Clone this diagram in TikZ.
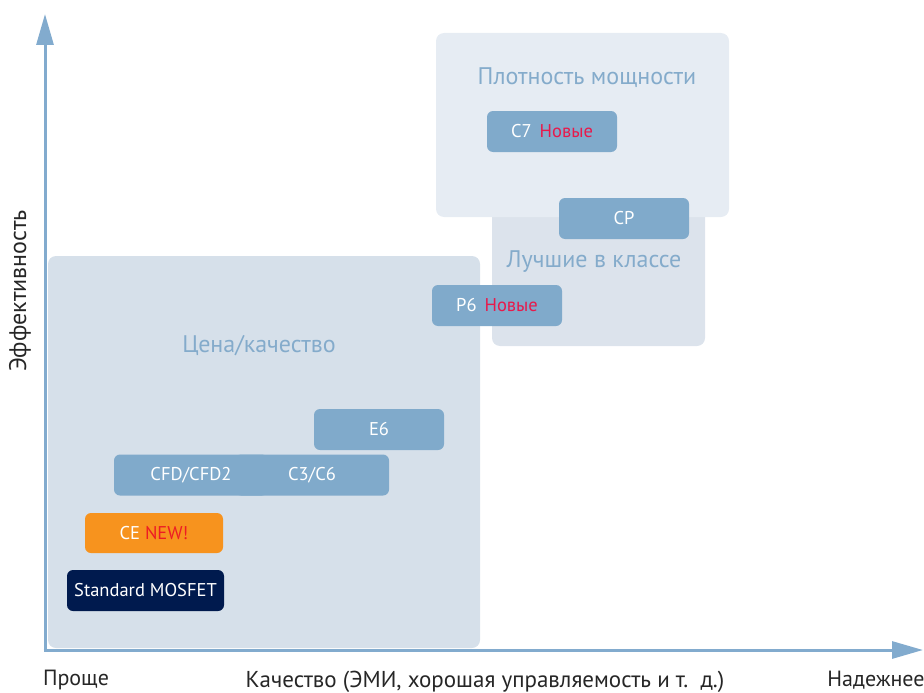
\documentclass[tikz,border=0pt]{standalone}
\usepackage{fontspec}
\setmainfont{PT Sans}
\usetikzlibrary{arrows.meta}
\definecolor{chipblue}{HTML}{80AACB}
\definecolor{axisblue}{HTML}{82ABCE}
\definecolor{labelblue}{HTML}{84ABCB}
\definecolor{valuezone}{HTML}{D6E0EA}
\definecolor{powerzone}{HTML}{E6ECF3}
\definecolor{bestzone}{HTML}{DCE3EC}
\definecolor{newred}{HTML}{E8194B}
\definecolor{cered}{HTML}{ED1C24}
\definecolor{ceorange}{HTML}{F7931E}
\definecolor{mosnavy}{HTML}{001A4E}

\tikzset{
  chip/.style={rounded corners=6pt,fill=chipblue,text=white,minimum width=130pt,minimum height=41pt,inner sep=0pt,font=\fontsize{18.5}{22}\selectfont},
  zonelabel/.style={text=labelblue,font=\fontsize{24}{28}\selectfont},
  axislabel/.style={text=black!85,font=\fontsize{22}{26}\selectfont}
}

\begin{document}
\begin{tikzpicture}[x=1pt,y=-1pt]
        \useasboundingbox (0,0) rectangle (924,693);
        \fill[bestzone,rounded corners=8pt] (492,190) rectangle (705,346);
        \fill[powerzone,rounded corners=8pt] (436,33) rectangle (729,217);
        \fill[valuezone,rounded corners=8pt] (48,256) rectangle (480,648);
        \node[zonelabel] (power) at (587,78) {Плотность мощности};
        \node[zonelabel] (best) at (594,262) {Лучшие в классе};
        \node[zonelabel] (value) at (259,346) {Цена/качество};
        \node[chip] (c7) at (552,131.5) {C7\hspace{8pt}{\color{newred}Новые}};
        \node[chip] (cp) at (624,218.5) {CP};
        \node[chip] (p6) at (497,305.5) {P6\hspace{8pt}{\color{newred}Новые}};
        \node[chip] (e6) at (379,429.5) {E6};
        \node[chip,minimum width=154pt] (cfd) at (191,475) {};
        \node[chip,minimum width=154pt] (c3) at (312,475) {};
        \node[text=white,font=\fontsize{18.5}{22}\selectfont] at (cfd.center) {CFD/CFD2};
        \node[text=white,font=\fontsize{18.5}{22}\selectfont] at (c3.center) {C3/C6};
        \node[chip,fill=ceorange,minimum width=138pt,minimum height=40pt] (ce) at (154,533) {CE {\color{cered}NEW!}};
        \node[chip,fill=mosnavy,minimum width=157pt] (mosfet) at (145.5,590.5) {Standard MOSFET};
        \coordinate (origin) at (45,650);
        \coordinate (ytip) at (45,14);
        \coordinate (xtip) at (923,650);
        \draw[axisblue,line width=3pt,-{Triangle[length=31pt,width=17pt]}] (origin) -- (ytip);
        \draw[axisblue,line width=3pt,-{Triangle[length=31pt,width=17pt]}] ([xshift=-1.5pt]origin) -- (xtip);
        \node[axislabel,rotate=90,font=\fontsize{24}{28}\selectfont] (eff) at (20,291) {Эффективность};
        \node[axislabel] (simple) at (76,680) {Проще};
        \node[axislabel,font=\fontsize{23}{27}\selectfont] (quality) at (485,682) {Качество (ЭМИ, хорошая управляемость и т.\ \ д.)};
        \node[axislabel] (reliable) at (876,680) {Надежнее};
\end{tikzpicture}
\end{document}
